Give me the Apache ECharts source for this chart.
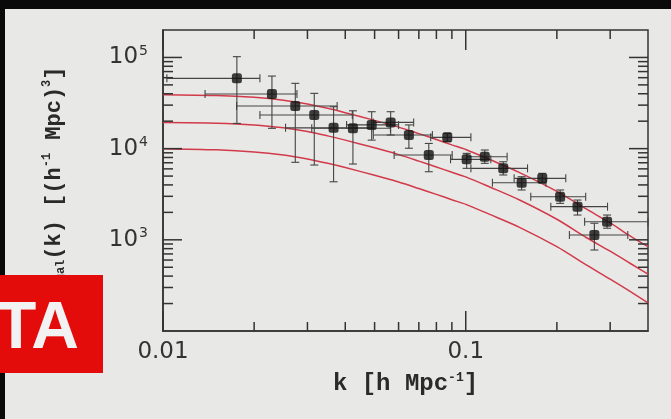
<!DOCTYPE html>
<html>
<head>
<meta charset="utf-8">
<script src="https://cdn.jsdelivr.net/npm/echarts@6/dist/echarts.min.js"></script>
<style>
html,body{margin:0;padding:0;background:#e8e8e6;}
#c{width:671px;height:419px;}
</style>
</head>
<body>
<div id="c"></div>
<script>
// ---- data ----
const kPoints = [0.01754, 0.0229, 0.02735, 0.0316, 0.0366, 0.0424, 0.0489, 0.0565, 0.0649, 0.0755, 0.0869, 0.1007, 0.1156, 0.133, 0.153, 0.179, 0.205, 0.234, 0.266, 0.293];
const pPoints = [59000, 39700, 29300, 23400, 16900, 16700, 18200, 19400, 14100, 8510, 13300, 7630, 8150, 6080, 4230, 4720, 2970, 2310, 1130, 1580];
const kLow  = [0.0103, 0.01377, 0.0175, 0.0209, 0.0254, 0.0310, 0.0404, 0.0495, 0.0495, 0.0580, 0.0766, 0.0891, 0.101, 0.104, 0.1225, 0.1445, 0.164, 0.191, 0.220, 0.247];
const kHigh = [0.0209, 0.0277, 0.0376, 0.0422, 0.0495, 0.0564, 0.0600, 0.0673, 0.0776, 0.0902, 0.104, 0.121, 0.137, 0.160, 0.184, 0.214, 0.249, 0.294, 0.343, 0.400];
const pLow  = [18900, 16700, 7080, 6610, 4330, 6780, 12400, 14100, 10100, 5580, 11900, 6080, 6900, 5140, 3520, 4170, 2510, 1870, 773, 1340];
const pHigh = [102000, 62500, 52000, 40400, 28800, 26000, 25400, 25400, 18200, 11400, 14700, 8870, 9660, 7180, 4920, 5360, 3520, 2730, 1520, 1870];

const kCurve    = [0.01, 0.015, 0.02, 0.025, 0.03, 0.035, 0.04, 0.05, 0.06, 0.07, 0.08, 0.09, 0.1, 0.12, 0.15, 0.2, 0.25, 0.3, 0.35, 0.4];
const curveLow  = [10000, 9700, 9200, 8500, 7700, 6900, 6200, 5100, 4300, 3650, 3150, 2750, 2450, 1900, 1380, 840, 530, 370, 270, 203];
const curveMid  = [19300, 19000, 18200, 16900, 15400, 13800, 12400, 10200, 8600, 7300, 6300, 5500, 4900, 3800, 2750, 1680, 1060, 750, 550, 420];
const curveHigh = [39000, 38200, 36500, 34000, 30800, 27700, 24800, 20400, 17200, 14600, 12600, 11000, 9800, 7600, 5500, 3400, 2180, 1530, 1100, 840];

const xMajorTicks = [0.01, 0.1];
const xMinorTicks = [0.02, 0.03, 0.04, 0.05, 0.06, 0.07, 0.08, 0.09, 0.2, 0.3];
const yMajorTicks = [1000, 10000, 100000];
const yMinorTicks = [200, 300, 400, 500, 600, 700, 800, 900,
                     2000, 3000, 4000, 5000, 6000, 7000, 8000, 9000,
                     20000, 30000, 40000, 50000, 60000, 70000, 80000, 90000];
const xTickLabels = ['0.01', '0.1'];
const yTickExponents = ['3', '4', '5'];

const xMin = 0.01, xMax = 0.4, yMin = 100, yMax = 200000;

// ---- build ----
const errData = kPoints.map((k, i) => [k, pPoints[i], kLow[i], kHigh[i], pLow[i], pHigh[i]]);
const ptData = kPoints.map((k, i) => [k, pPoints[i]]);
const xTickData = xMajorTicks.map(v => [v, 1000, 1]).concat(xMinorTicks.map(v => [v, 1000, 0]));
const yTickData = yMajorTicks.map(v => [0.1, v, 1]).concat(yMinorTicks.map(v => [0.1, v, 0]));

const tickColor = '#333';
const lineStyleT = {stroke: tickColor, lineWidth: 1.5};

function xTickRender(params, api) {
  const cs = params.coordSys;
  const x = api.coord([api.value(0), 1000])[0];
  const len = api.value(2) ? 20 : 9;
  const b = cs.y + cs.height, t = cs.y;
  return {type: 'group', children: [
    {type: 'line', shape: {x1: x, y1: b, x2: x, y2: b - len}, style: lineStyleT},
    {type: 'line', shape: {x1: x, y1: t, x2: x, y2: t + len}, style: lineStyleT}
  ]};
}
function yTickRender(params, api) {
  const cs = params.coordSys;
  const y = api.coord([0.1, api.value(1)])[1];
  const len = api.value(2) ? 19 : 10;
  const l = cs.x, r = cs.x + cs.width;
  return {type: 'group', children: [
    {type: 'line', shape: {x1: l, y1: y, x2: l + len, y2: y}, style: lineStyleT},
    {type: 'line', shape: {x1: r, y1: y, x2: r - len, y2: y}, style: lineStyleT}
  ]};
}
function errRender(params, api) {
  const k = api.value(0), p = api.value(1);
  const lo = api.coord([api.value(2), p]);
  const hi = api.coord([api.value(3), p]);
  const yl = api.coord([k, api.value(4)]);
  const yh = api.coord([k, api.value(5)]);
  const c = 4;
  const st = {stroke: '#444', lineWidth: 1.1};
  return {type: 'group', children: [
    {type: 'line', shape: {x1: lo[0], y1: lo[1], x2: hi[0], y2: hi[1]}, style: st},
    {type: 'line', shape: {x1: lo[0], y1: lo[1] - c, x2: lo[0], y2: lo[1] + c}, style: st},
    {type: 'line', shape: {x1: hi[0], y1: hi[1] - c, x2: hi[0], y2: hi[1] + c}, style: st},
    {type: 'line', shape: {x1: yl[0], y1: yl[1], x2: yh[0], y2: yh[1]}, style: st},
    {type: 'line', shape: {x1: yl[0] - c, y1: yl[1], x2: yl[0] + c, y2: yl[1]}, style: st},
    {type: 'line', shape: {x1: yh[0] - c, y1: yh[1], x2: yh[0] + c, y2: yh[1]}, style: st}
  ]};
}

function isPow10(v) {
  const e = Math.log10(v);
  return Math.abs(e - Math.round(e)) < 1e-6;
}

const chart = echarts.init(document.getElementById('c'), null, {renderer: 'canvas'});
const curveColor = '#d23a4a';
const titleFont = 'Liberation Mono';

chart.setOption({
  backgroundColor: '#e8e8e6',
  animation: false,
  grid: {left: 163, right: 23, top: 30, bottom: 88, show: true, borderColor: '#333', borderWidth: 1.5, backgroundColor: 'transparent'},
  xAxis: {
    type: 'log', logBase: 10, min: xMin, max: xMax,
    axisLine: {show: true, lineStyle: {color: '#333', width: 1.5}},
    axisTick: {show: false}, splitLine: {show: false}, minorTick: {show: false},
    axisLabel: {
      color: '#333', fontFamily: 'DejaVu Sans', fontSize: 23, margin: 10,
      showMinLabel: true, showMaxLabel: true,
      formatter: function (v) {
        if (!isPow10(v)) return '';
        const e = Math.round(Math.log10(v));
        return xTickLabels[e + 2] || '';
      }
    },
    name: '{t|k [h Mpc}{s|-1}{t|]}',
    nameLocation: 'middle', nameGap: 40,
    nameTextStyle: {
      rich: {
        t: {fontFamily: titleFont, fontWeight: 'bold', fontSize: 24, color: '#2a2a2a', lineHeight: 26},
        s: {fontFamily: titleFont, fontWeight: 'bold', fontSize: 13, color: '#2a2a2a', verticalAlign: 'top', lineHeight: 26, padding: [0, 0, 10, 0]}
      }
    }
  },
  yAxis: {
    type: 'log', logBase: 10, min: yMin, max: yMax,
    axisLine: {show: true, lineStyle: {color: '#333', width: 1.5}},
    axisTick: {show: false}, splitLine: {show: false}, minorTick: {show: false},
    axisLabel: {
      margin: 15,
      formatter: function (v) {
        if (!isPow10(v)) return '';
        const e = Math.round(Math.log10(v));
        const ex = yTickExponents[e - 3];
        if (!ex) return '';
        return '{b|10}{s|' + ex + '}';
      },
      rich: {
        b: {fontFamily: 'DejaVu Sans', fontSize: 23, color: '#333', lineHeight: 26},
        s: {fontFamily: 'DejaVu Sans', fontSize: 14, color: '#333', verticalAlign: 'top', lineHeight: 26, padding: [0, 0, 9, 1]}
      }
    },
    name: '{t|P}{b|gal}{t|(k) [(h}{s|-1}{t| Mpc)}{s|3}{t|]}',
    nameLocation: 'middle', nameGap: 96, nameRotate: 90,
    nameTextStyle: {
      rich: {
        t: {fontFamily: titleFont, fontWeight: 'bold', fontSize: 22, color: '#2a2a2a', lineHeight: 26},
        b: {fontFamily: titleFont, fontWeight: 'bold', fontSize: 12, color: '#2a2a2a', verticalAlign: 'bottom', lineHeight: 26},
        s: {fontFamily: titleFont, fontWeight: 'bold', fontSize: 12, color: '#2a2a2a', verticalAlign: 'top', lineHeight: 26}
      }
    }
  },
  series: [
    {type: 'line', data: kCurve.map((k, i) => [k, curveLow[i]]), smooth: 0.3, showSymbol: false, lineStyle: {color: curveColor, width: 1.5}, z: 2},
    {type: 'line', data: kCurve.map((k, i) => [k, curveMid[i]]), smooth: 0.3, showSymbol: false, lineStyle: {color: curveColor, width: 1.5}, z: 2},
    {type: 'line', data: kCurve.map((k, i) => [k, curveHigh[i]]), smooth: 0.3, showSymbol: false, lineStyle: {color: curveColor, width: 1.5}, z: 2},
    {type: 'custom', data: errData, renderItem: errRender, z: 3, clip: false},
    {type: 'scatter', data: ptData, symbol: 'roundRect', symbolSize: 10, itemStyle: {color: '#111'}, z: 4},
    {type: 'custom', data: xTickData, renderItem: xTickRender, z: 5, clip: false},
    {type: 'custom', data: yTickData, renderItem: yTickRender, z: 5, clip: false}
  ],
  graphic: [
    {type: 'rect', left: 0, top: 0, shape: {width: 671, height: 9}, style: {fill: '#0a0a0a'}, z: 100},
    {type: 'rect', left: 0, top: 0, shape: {width: 5, height: 419}, style: {fill: '#0a0a0a'}, z: 100},
    {type: 'rect', left: 0, top: 275, shape: {width: 103, height: 98}, style: {fill: '#e40b0b'}, z: 101},
    {type: 'text', right: 671 - 79, top: 297, style: {text: 'TA', fill: '#f2f2f2', font: 'bold 66px "Liberation Sans"'}, z: 102}
  ]
});
</script>
</body>
</html>
